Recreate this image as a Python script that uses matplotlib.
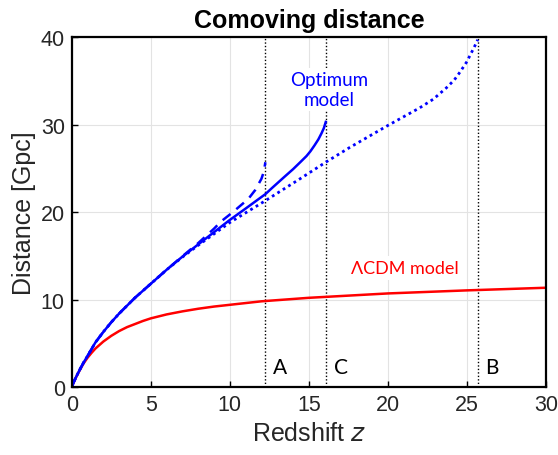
import matplotlib
matplotlib.use('Agg')
from matplotlib import pyplot as plt

# LambdaCDM comoving distance
z_lcdm = [0, 0.1, 0.25, 0.5, 0.75, 1, 1.25, 1.5, 2, 2.5, 3, 3.5, 4, 4.5, 5, 6, 7, 8, 9, 10, 12, 15, 20, 25, 30]
d_lcdm = [0, 0.43, 1.03, 1.9, 2.7, 3.35, 3.9, 4.4, 5.2, 5.85, 6.4, 6.85, 7.2, 7.55, 7.85, 8.3, 8.65, 8.95, 9.2,
          9.4, 9.8, 10.2, 10.7, 11.05, 11.35]

# Optimum model, solid branch (ends at C)
z_solid = [0, 0.1, 0.25, 0.5, 0.75, 1, 1.5, 2, 2.5, 3, 4, 5, 6, 7, 8, 9, 10, 11, 12.25, 12.7, 13.1, 13.5, 14,
           14.4, 14.85, 15.1, 15.35, 15.6, 15.8, 15.95, 16.07]
d_solid = [0, 0.43, 1.05, 1.95, 2.8, 3.55, 5.1, 6.3, 7.4, 8.4, 10.2, 11.8, 13.4, 14.9, 16.3, 17.7, 19.1, 20.4,
           22.05, 22.8, 23.45, 24.1, 24.9, 25.6, 26.4, 26.95, 27.6, 28.3, 29.0, 29.6, 30.3]

# Optimum model, dashed branch (ends at A)
z_dash = [0, 0.1, 0.25, 0.5, 0.75, 1, 1.5, 2, 2.5, 3, 4, 5, 6, 7, 8, 9, 9.43, 10.17, 11.17, 11.6, 12.0, 12.15,
          12.25]
d_dash = [0, 0.43, 1.05, 1.95, 2.8, 3.55, 5.1, 6.3, 7.4, 8.4, 10.2, 11.8, 13.4, 14.95, 16.45, 18.1, 18.9, 19.96,
          21.5, 22.5, 23.8, 24.6, 25.7]

# Optimum model, dotted branch (ends at B)
z_dot = [0, 0.1, 0.25, 0.5, 0.75, 1, 1.5, 2, 2.5, 3, 4, 5, 6, 7, 8, 9, 10, 12.25, 14.44, 16.07, 17.6, 20, 21, 22,
         22.87, 23.7, 24.2, 24.56, 25.0, 25.19, 25.45, 25.68]
d_dot = [0, 0.43, 1.05, 1.95, 2.8, 3.55, 5.1, 6.3, 7.4, 8.4, 10.2, 11.8, 13.4, 14.85, 16.2, 17.5, 18.8, 21.3, 23.8,
         25.7, 27.4, 29.9, 30.9, 31.9, 32.9, 34.2, 35.1, 36.0, 37.2, 37.9, 38.8, 39.7]

# vertical markers
mark_z = [12.25, 16.07, 25.68]
mark_lbl = ['A', 'C', 'B']

fig = plt.figure(figsize=(5.58, 4.56), dpi=100)
ax = fig.add_axes([0.1285, 0.149, 0.85, 0.7675])

ax.grid(True, color='#e3e3e3', linewidth=0.8)
ax.set_axisbelow(True)

for zm, lb in zip(mark_z, mark_lbl):
    ax.plot([zm, zm], [0, 40], color='black', linestyle=(0, (1, 1.5)), linewidth=1.0, zorder=2)
    ax.text(zm + 0.5, 2.3, lb, fontsize=15, family='Lato', ha='left', va='center', zorder=3)

ax.plot(z_lcdm, d_lcdm, color='#ff0000', linewidth=1.8, zorder=4)
ax.plot(z_dot, d_dot, color='#0000ff', linestyle=(0, (1, 1.3)), linewidth=2.0, zorder=4)
ax.plot(z_dash, d_dash, color='#0000ff', linestyle=(0, (4, 3)), linewidth=1.8, zorder=4)
ax.plot(z_solid, d_solid, color='#0000ff', linewidth=1.8, zorder=5)

ax.text(16.27, 34.0, 'Optimum\nmodel', color='#0000ff', fontsize=13.5, family='Lato',
        ha='center', va='center', linespacing=1.2, zorder=3,
        bbox=dict(facecolor='white', edgecolor='none', pad=2))
ax.text(21.1, 13.6, '\u039bCDM model', color='#ff0000', fontsize=13, family='Lato',
        ha='center', va='center', zorder=3,
        bbox=dict(facecolor='white', edgecolor='none', pad=3))

ax.set_xlim(0, 30)
ax.set_ylim(0, 40)
ax.set_xticks([0, 5, 10, 15, 20, 25, 30])
ax.set_yticks([0, 10, 20, 30, 40])
ax.tick_params(direction='in', labelsize=15.5, labelcolor='#262626', length=4, width=1, pad=5)
for lab in ax.get_xticklabels() + ax.get_yticklabels():
    lab.set_family('Liberation Sans')
for s in ax.spines.values():
    s.set_linewidth(1.6)
    s.set_zorder(6)

ax.set_xlabel('Redshift $z$', fontsize=18, color='#262626', family='Liberation Sans', labelpad=4)
ax.set_ylabel('Distance [Gpc]', fontsize=18, color='#262626', family='Liberation Sans', labelpad=3)
ax.set_title('Comoving distance', fontsize=18, fontweight='bold', family='Liberation Sans', pad=7)

fig.savefig('out.png', dpi=100)
